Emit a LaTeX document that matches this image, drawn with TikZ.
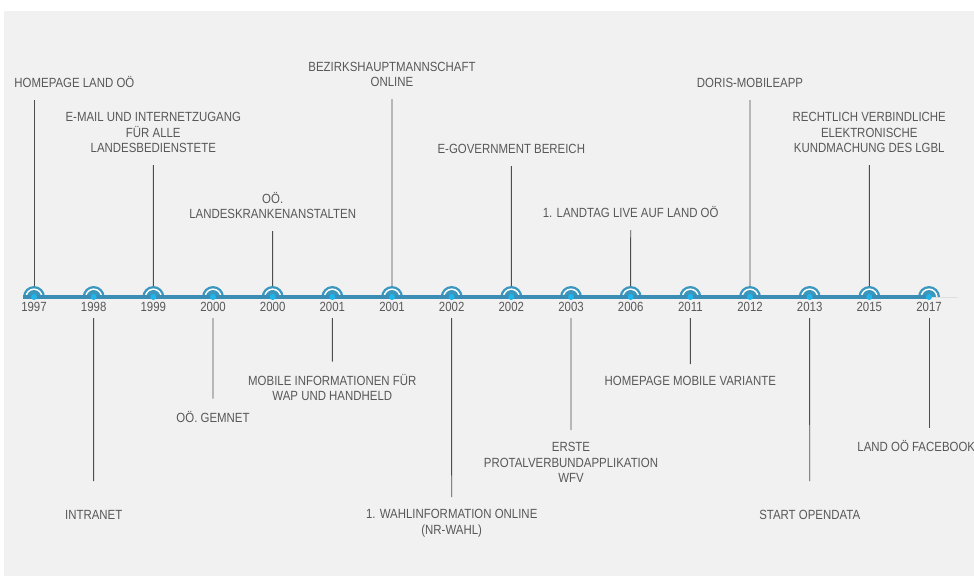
\documentclass[tikz,border=0pt]{standalone}
\usepackage{fontspec}
\setmainfont{Liberation Sans}[FakeStretch=0.86]

\definecolor{bgcol}{HTML}{F1F1F1}
\definecolor{linecol}{HTML}{3A8DB4}
\definecolor{markcol}{HTML}{3B97BD}
\definecolor{dotcol}{HTML}{1FB5EA}
\definecolor{textcol}{HTML}{585858}
\definecolor{stemcol}{HTML}{4D4D4D}

\def\liney{-297}

\begin{document}
\begin{tikzpicture}[x=1pt,y=1pt,line width=0.9pt]
    \tikzstyle{event}=[text=textcol,font=\fontsize{13.3}{15.4}\selectfont,align=center,inner sep=0pt]
    \tikzstyle{above event}=[event,anchor=south]
    \tikzstyle{below event}=[event,anchor=north]
    \tikzstyle{year}=[event]
    \tikzstyle{stem up}=[draw=stemcol,shorten <=12pt,shorten >=11pt]
    \tikzstyle{stem down}=[draw=stemcol,shorten <=21pt,shorten >=12pt]
    \tikzstyle{marker}=[fill=markcol]

    \useasboundingbox (0,0) rectangle (974,-576);
    \clip (0,0) rectangle (974,-576);
    \fill[bgcol] (4,-11) rectangle (974,-576);

    % Place the years along the line
    \foreach \yr [count=\n] in {1997,1998,1999,2000,2000,2001,2001,2002,2002,2003,2006,2011,2012,2013,2015,2017} {
        \pgfmathsetmacro\x{34+59.667*(\n-1)}
        \coordinate (m-\n) at (\x,\liney);
        \node[year] (y-\n) at (\x,-307) {\yr};
    }
    \coordinate (tl-end) at (958,\liney);

    % Events above the line
    \node[above event,anchor=south west] (T-1) at (14,-88) {HOMEPAGE LAND OÖ};
    \node[above event] (T-2) at (153.3,-153) {E-MAIL UND INTERNETZUGANG\\FÜR ALLE\\LANDESBEDIENSTETE};
    \node[above event] (T-3) at (272.7,-219) {OÖ.\\LANDESKRANKENANSTALTEN};
    \node[above event] (T-4) at (392,-87) {BEZIRKSHAUPTMANNSCHAFT\\ONLINE};
    \node[above event] (T-5) at (511.3,-154) {E-GOVERNMENT BEREICH};
    \node[above event] (T-6) at (630.7,-218) {1. LANDTAG LIVE AUF LAND OÖ};
    \node[above event] (T-7) at (750,-88) {DORIS-MOBILEAPP};
    \node[above event] (T-8) at (869.3,-153) {RECHTLICH VERBINDLICHE\\ELEKTRONISCHE\\KUNDMACHUNG DES LGBL};

    % Events below the line
    \node[below event] (B-1) at (93.7,-510) {INTRANET};
    \node[below event] (B-2) at (213,-410.5) {OÖ. GEMNET};
    \node[below event] (B-3) at (332.3,-373.5) {MOBILE INFORMATIONEN FÜR\\WAP UND HANDHELD};
    \node[below event] (B-4) at (451.7,-509) {1. WAHLINFORMATION ONLINE\\(NR-WAHL)};
    \node[below event] (B-5) at (571,-442) {ERSTE\\PROTALVERBUNDAPPLIKATION\\WFV};
    \node[below event] (B-6) at (690.3,-376) {HOMEPAGE MOBILE VARIANTE};
    \node[below event] (B-7) at (809.7,-510) {START OPENDATA};
    \node[below event,anchor=north west] (B-8) at (857,-439.5) {LAND OÖ FACEBOOK};

    % Connect the events with their markers
    \draw[stem up] (T-1.south -| m-1) -- (m-1);
    \draw[stem up] (T-2) -- (m-3);
    \draw[stem up] (T-3) -- (m-5);
    \draw[stem up] (T-4) -- (m-7);
    \draw[stem up] (T-5) -- (m-9);
    \draw[stem up] (T-6) -- (m-11);
    \draw[stem up] (T-7) -- (m-13);
    \draw[stem up] (T-8) -- (m-15);
    \draw[stem down,shorten >=29pt] (m-2) -- (B-1);
    \draw[stem down] (m-4) -- (B-2);
    \draw[stem down] (m-6) -- (B-3);
    \draw[stem down] (m-8) -- (B-4);
    \draw[stem down] (m-10) -- (B-5);
    \draw[stem down] (m-12) -- (B-6);
    \draw[stem down,shorten >=29pt] (m-14) -- (B-7);
    \draw[stem down] (m-16) -- (B-8.north -| m-16);

    % Draw the half-ring markers
    \foreach \n in {1,...,16} {
        \fill[marker] ([xshift=-11pt]m-\n) arc[start angle=180,end angle=0,radius=11] -- cycle;
        \fill[white] ([xshift=-8.6pt]m-\n) arc[start angle=180,end angle=0,radius=8.6] -- cycle;
        \fill[marker] ([xshift=-7pt]m-\n) arc[start angle=180,end angle=0,radius=7] -- cycle;
    }

    % The line itself
    \draw[gray!25,line width=1pt] (m-16) -- (tl-end);
    \draw[linecol,line width=4.5pt] ([xshift=-11pt]m-1) -- (m-16);
    \foreach \n in {1,...,16}
        \fill[dotcol] (m-\n) circle (3);
\end{tikzpicture}
\end{document}
